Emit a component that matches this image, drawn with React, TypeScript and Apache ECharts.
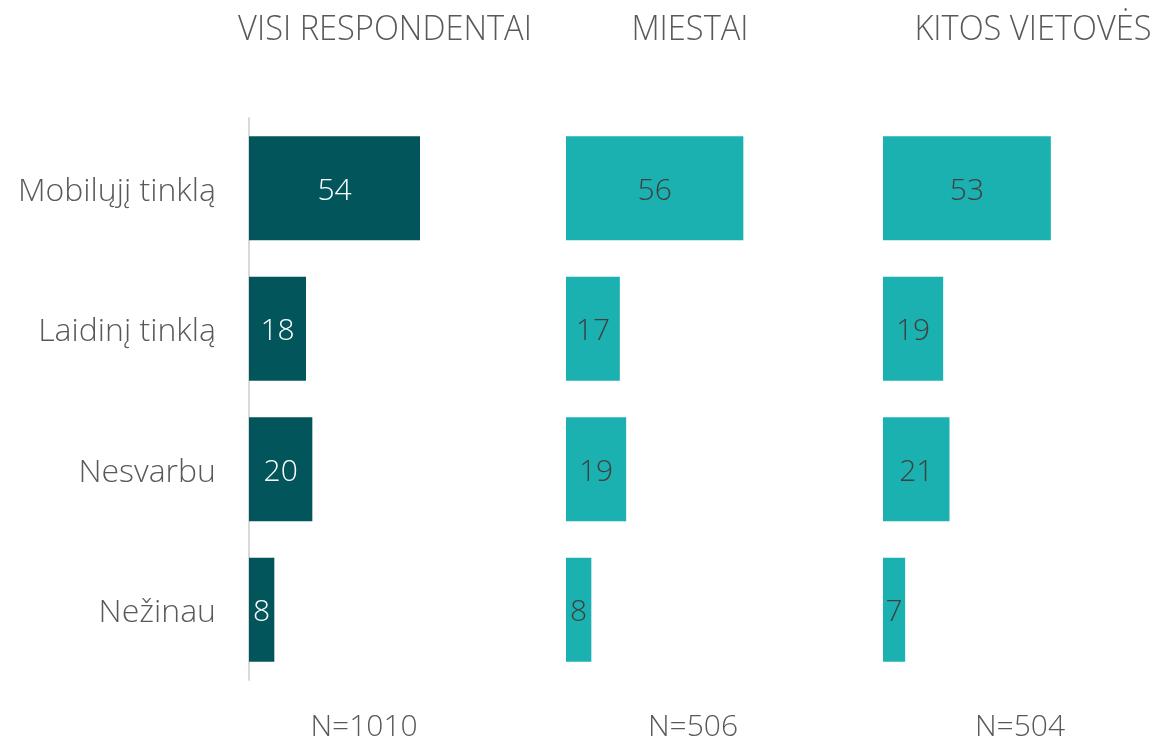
import React, { useEffect, useRef } from "react";
import * as echarts from "echarts";

const categories = ["Mobilųjį tinklą", "Laidinį tinklą", "Nesvarbu", "Nežinau"];
const panelTitles = ["VISI RESPONDENTAI", "MIESTAI", "KITOS VIETOVĖS"];
const sampleLabels = ["N=1010", "N=506", "N=504"];
const allValues = [54, 18, 20, 8];
const cityValues = [56, 17, 19, 8];
const otherValues = [53, 19, 21, 7];

const FONT = "'Open Sans', sans-serif";
const TEXT = "#595959";
const DARK = "#02565B";
const LIGHT = "#1BB1B0";

export default function App() {
  const ref = useRef<HTMLDivElement>(null);
  useEffect(() => {
    if (!ref.current) return;
    const chart = echarts.init(ref.current, undefined, { renderer: "svg" });
    const lefts = [249, 566, 883];
    const titleX = [385, 690, 1033];
    const nX = [364, 693, 1020];
    const series = [allValues, cityValues, otherValues];
    const colors = [DARK, LIGHT, LIGHT];
    const labelColors = ["#ffffff", "#404040", "#404040"];
    chart.setOption({
      animation: false,
      grid: lefts.map((l) => ({ left: l, top: 118, width: 190, height: 562 })),
      xAxis: lefts.map((_, i) => ({
        type: "value",
        gridIndex: i,
        min: 0,
        max: 60,
        show: false,
      })),
      yAxis: lefts.map((_, i) => ({
        type: "category",
        gridIndex: i,
        data: categories,
        inverse: true,
        axisTick: { show: false },
        axisLine: { show: i === 0, lineStyle: { color: "#d9d9d9", width: 2 } },
        axisLabel: {
          show: i === 0,
          color: TEXT,
          fontFamily: FONT,
          fontWeight: 300,
          fontSize: 32,
          margin: 33,
        },
      })),
      series: series.map((d, i) => ({
        type: "bar",
        xAxisIndex: i,
        yAxisIndex: i,
        data: d,
        barWidth: 104,
        itemStyle: { color: colors[i] },
        label: {
          show: true,
          position: "inside",
          color: labelColors[i],
          fontFamily: FONT,
          fontWeight: 300,
          fontSize: 30,
        },
      })),
      graphic: [
        ...panelTitles.map((t, i) => ({
          type: "text",
          x: titleX[i],
          y: 27,
          scaleX: 0.96,
          style: {
            text: t,
            fill: TEXT,
            font: `300 34px ${FONT}`,
            textAlign: "center",
            textVerticalAlign: "middle",
          },
        })),
        ...sampleLabels.map((t, i) => ({
          type: "text",
          x: nX[i],
          y: 724,
          style: {
            text: t,
            fill: TEXT,
            font: `300 30px ${FONT}`,
            textAlign: "center",
            textVerticalAlign: "middle",
          },
        })),
      ],
    });
    return () => chart.dispose();
  }, []);
  return (
    <div
      ref={ref}
      style={{ position: "fixed", left: 0, top: 0, width: 1156, height: 743 }}
    />
  );
}
